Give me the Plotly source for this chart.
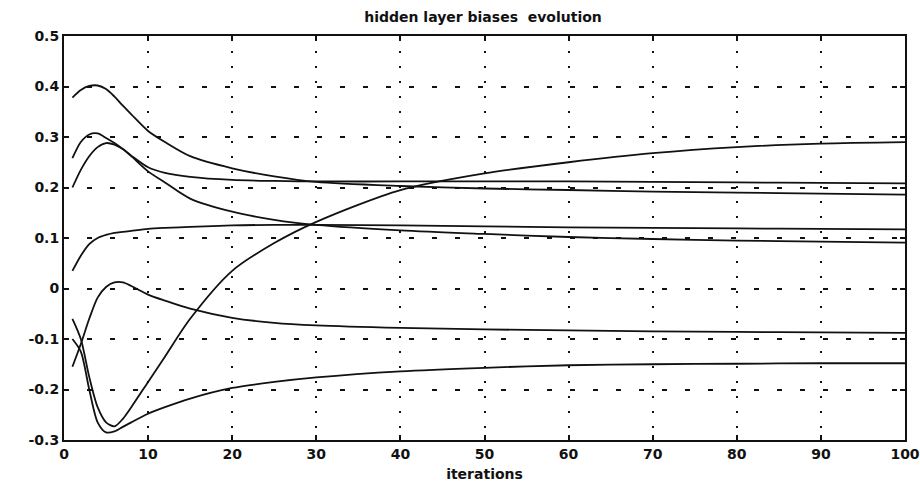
import plotly.graph_objects as go

# iteration numbers at which the hidden-layer biases were sampled
iterations = [1, 2, 3, 4, 5, 6, 7, 8, 10, 12, 15, 20, 25, 30, 40, 50, 60, 70, 80, 90, 100]

# bias value of each hidden neuron at those iterations
bias_1 = [0.378, 0.393, 0.401, 0.402, 0.395, 0.380, 0.362, 0.345, 0.312, 0.290, 0.262,
          0.238, 0.222, 0.211, 0.203, 0.198, 0.195, 0.192, 0.190, 0.188, 0.186]
bias_2 = [0.258, 0.290, 0.305, 0.307, 0.298, 0.288, 0.276, 0.262, 0.232, 0.210, 0.178,
          0.152, 0.136, 0.126, 0.115, 0.108, 0.102, 0.098, 0.095, 0.093, 0.091]
bias_3 = [0.200, 0.235, 0.262, 0.280, 0.288, 0.285, 0.276, 0.263, 0.240, 0.229, 0.221,
          0.215, 0.213, 0.212, 0.212, 0.212, 0.212, 0.211, 0.210, 0.209, 0.208]
bias_4 = [0.035, 0.065, 0.088, 0.100, 0.106, 0.110, 0.112, 0.114, 0.118, 0.120, 0.122,
          0.125, 0.126, 0.126, 0.125, 0.123, 0.121, 0.120, 0.119, 0.118, 0.117]
bias_5 = [-0.155, -0.110, -0.060, -0.018, 0.003, 0.012, 0.012, 0.005, -0.012, -0.024, -0.040,
          -0.058, -0.068, -0.073, -0.078, -0.081, -0.083, -0.085, -0.086, -0.087, -0.088]
bias_6 = [-0.060, -0.100, -0.175, -0.235, -0.265, -0.273, -0.258, -0.235, -0.185, -0.135, -0.060,
          0.035, 0.090, 0.132, 0.195, 0.228, 0.250, 0.268, 0.280, 0.287, 0.290]
bias_7 = [-0.100, -0.125, -0.200, -0.265, -0.285, -0.283, -0.274, -0.265, -0.248, -0.235, -0.218,
          -0.197, -0.185, -0.176, -0.164, -0.157, -0.152, -0.150, -0.149, -0.148, -0.148]

# axis ticks
x_tick_values = [0, 10, 20, 30, 40, 50, 60, 70, 80, 90, 100]
y_tick_values = [-0.3, -0.2, -0.1, 0, 0.1, 0.2, 0.3, 0.4, 0.5]
y_tick_labels = ["-0.3", "-0.2", "-0.1", "0", "0.1", "0.2", "0.3", "0.4", "0.5"]

all_biases = [bias_1, bias_2, bias_3, bias_4, bias_5, bias_6, bias_7]

FONT = "DejaVu Sans"
INK = "#111111"

fig = go.Figure()
for series in all_biases:
    fig.add_trace(go.Scatter(
        x=iterations, y=series, mode="lines",
        line=dict(color=INK, width=1.8, shape="spline", smoothing=0.8),
        showlegend=False, hoverinfo="skip",
    ))

axis_common = dict(
    showline=True, linecolor=INK, linewidth=2, mirror="allticks",
    ticks="inside", ticklen=5, tickwidth=1.5, tickcolor=INK,
    showgrid=True, gridcolor=INK, gridwidth=1.6,
    zeroline=False, automargin=False,
    tickfont=dict(family=FONT, size=14, color=INK, weight="bold"),
)

fig.update_xaxes(
    range=[0, 100], tickvals=x_tick_values,
    griddash="2px,13px",
    title=dict(text="iterations", standoff=8,
               font=dict(family=FONT, size=14, color=INK, weight="bold")),
    **axis_common,
)
fig.update_yaxes(
    range=[-0.3, 0.5], tickvals=y_tick_values, ticktext=y_tick_labels,
    griddash="5px,18px",
    **axis_common,
)

fig.update_layout(
    width=920, height=485,
    margin=dict(l=64, r=15, t=36, b=45),
    paper_bgcolor="white", plot_bgcolor="white",
    title=dict(text="hidden layer biases  evolution", x=0.525, xanchor="center",
               y=0.965, yanchor="middle",
               font=dict(family=FONT, size=14, color=INK, weight="bold")),
)

fig.write_html("out.html")
